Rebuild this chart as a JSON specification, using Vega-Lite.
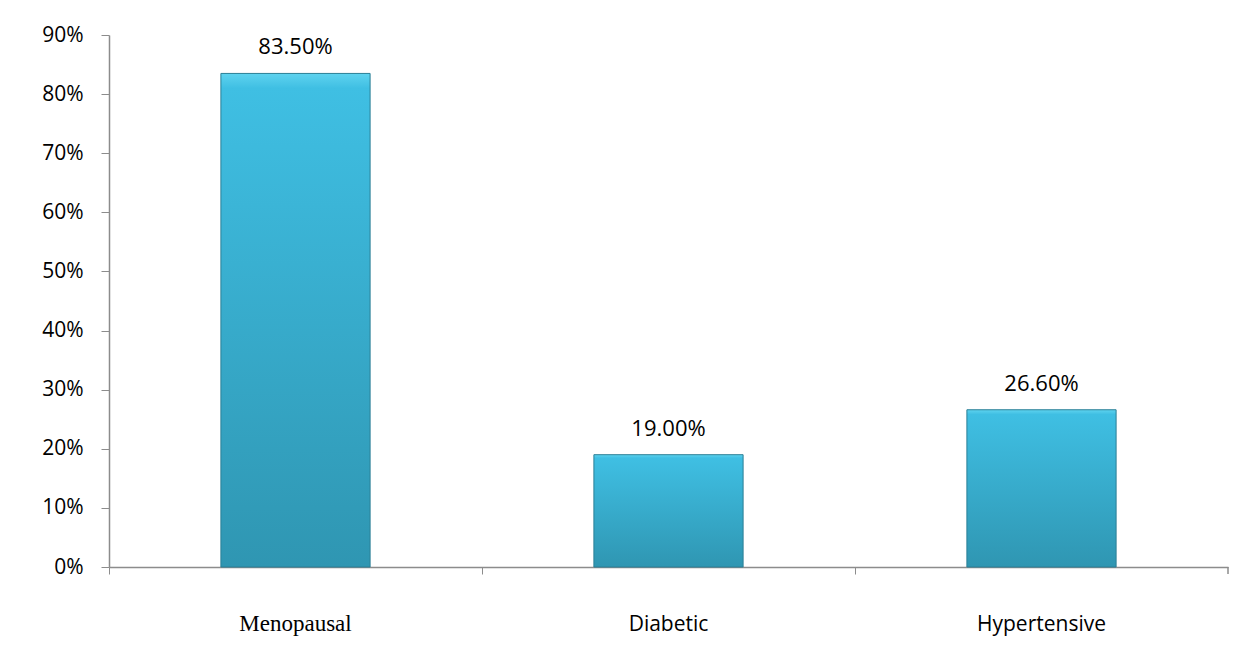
{
  "$schema": "https://vega.github.io/schema/vega-lite/v6.json",
  "width": 1119,
  "height": 532,
  "autosize": {"type": "none"},
  "padding": {"left": 109, "top": 35, "right": 29, "bottom": 82},
  "background": "white",
  "config": {"view": {"stroke": null}},
  "data": {"values": [
    {"cat": "Menopausal", "pct": 0.835},
    {"cat": "Diabetic", "pct": 0.19},
    {"cat": "Hypertensive", "pct": 0.266}
  ]},
  "encoding": {
    "x": {
      "field": "cat", "type": "nominal", "sort": null,
      "scale": {"paddingInner": 0, "paddingOuter": 0},
      "axis": {
        "title": null, "labelAngle": 0, "bandPosition": 0,
        "labelBaseline": "alphabetic", "labelPadding": 56, "tickSize": 7,
        "domainColor": "#8c8c8c", "tickColor": "#8c8c8c", "domainWidth": 1.5,
        "labelColor": "black",
        "labelFontSize": {"condition": {"test": "datum.value === 'Menopausal'", "value": 23}, "value": 21},
        "labelFont": {"condition": {"test": "datum.value === 'Menopausal'", "value": "Liberation Serif"}, "value": "Open Sans"}
      }
    },
    "y": {
      "field": "pct", "type": "quantitative",
      "scale": {"domain": [0, 0.9]},
      "axis": {
        "title": null, "format": ".0%", "values": [0, 0.1, 0.2, 0.3, 0.4, 0.5, 0.6, 0.7, 0.8, 0.9],
        "grid": false, "tickSize": 8, "labelPadding": 18,
        "domainColor": "#8c8c8c", "tickColor": "#8c8c8c", "domainWidth": 1.5,
        "labelColor": "black", "labelFontSize": 21, "labelFont": "Open Sans"
      }
    }
  },
  "layer": [
    {
      "mark": {
        "type": "bar", "width": {"band": 0.4},
        "stroke": "#2a7f96", "strokeWidth": 1,
        "color": {"gradient": "linear", "x1": 0, "y1": 0, "x2": 0, "y2": 1,
          "stops": [
            {"offset": 0, "color": "#5fd3ef"},
            {"offset": 0.03, "color": "#3fbfe3"},
            {"offset": 1, "color": "#2f96b2"}
          ]}
      }
    },
    {
      "mark": {"type": "text", "baseline": "alphabetic", "dy": -19, "fontSize": 22, "font": "Open Sans", "color": "black"},
      "encoding": {"text": {"field": "pct", "type": "quantitative", "format": ".2%"}}
    },
    {
      "transform": [{"filter": "datum.cat === 'Hypertensive'"}],
      "mark": {"type": "rule", "color": "#8c8c8c", "strokeWidth": 1.5, "y2Offset": 7},
      "encoding": {
        "x": {"field": "cat", "type": "nominal", "sort": null, "bandPosition": 1},
        "y": {"datum": 0},
        "y2": {"datum": 0}
      }
    }
  ]
}
